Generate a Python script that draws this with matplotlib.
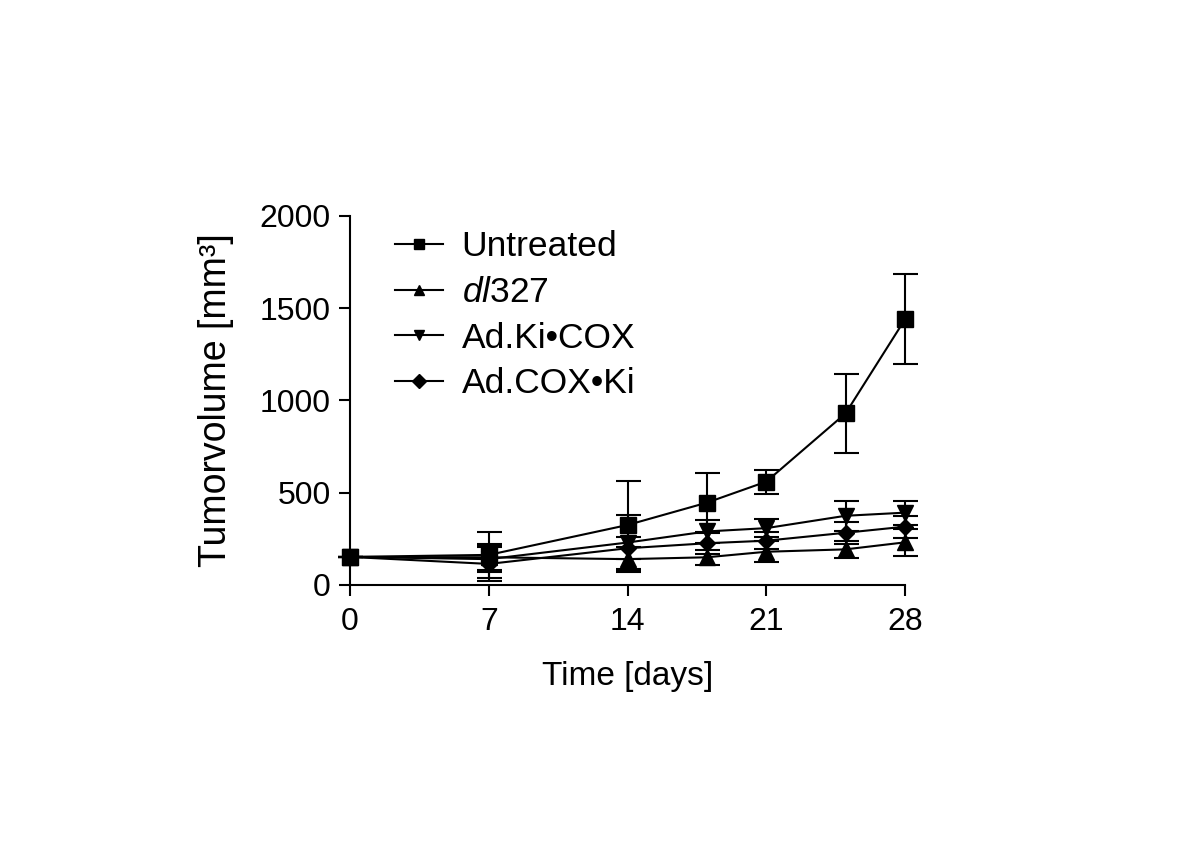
import matplotlib
matplotlib.use("Agg")
import matplotlib.pyplot as plt
import numpy as np

days = [0, 7, 14, 18, 21, 25, 28]
untreated = [152, 163, 325, 446, 560, 930, 1440]
untreated_err = [0, 125, 240, 162, 65, 213, 245]
dl327 = [152, 150, 140, 150, 180, 193, 231]
dl327_err = [0, 70, 68, 40, 58, 45, 72]
adkicox = [152, 140, 230, 290, 308, 375, 392]
adkicox_err = [0, 70, 150, 60, 50, 82, 65]
adcoxki = [152, 114, 199, 226, 240, 283, 316]
adcoxki_err = [0, 90, 60, 60, 45, 60, 60]

labels = ["Untreated", r"$\it{dl}$327", "Ad.Ki\u2022COX", "Ad.COX\u2022Ki"]

plt.rcParams['font.family'] = ['Liberation Sans', 'DejaVu Sans']
plt.rcParams['mathtext.fontset'] = 'custom'
plt.rcParams['mathtext.it'] = 'Liberation Sans:italic'
plt.rcParams['mathtext.rm'] = 'Liberation Sans'

fig = plt.figure(figsize=(12, 8.49), dpi=100)
ax = fig.add_axes([0.2917, 0.311, 0.7542 - 0.2917, 0.7456 - 0.311])

series = [
    (untreated, untreated_err, 's', 12),
    (dl327, dl327_err, '^', 12),
    (adkicox, adkicox_err, 'v', 12),
    (adcoxki, adcoxki_err, 'D', 8.5),
]
for (vals, err, m, ms), lab in zip(series, labels):
    ax.errorbar(days, vals, yerr=err, color='black', marker=m, markersize=ms,
                linewidth=1.5, elinewidth=1.5, capsize=9, capthick=1.5,
                label=lab, clip_on=False)

ax.set_xlim(0, 28)
ax.set_ylim(0, 2000)
ax.set_xticks([0, 7, 14, 21, 28])
ax.set_yticks([0, 500, 1000, 1500, 2000])
for s in ['top', 'right']:
    ax.spines[s].set_visible(False)
for s in ['left', 'bottom']:
    ax.spines[s].set_linewidth(1.5)
ax.tick_params(axis='both', length=8, width=1.5, labelsize=23, pad=6)
ax.tick_params(axis='x', labelsize=23, pad=8)
ax.set_xlabel("Time [days]", fontsize=24, labelpad=17)
ax.set_ylabel("Tumorvolume [mm\u00b3]", fontsize=27, labelpad=18)

h, l = ax.get_legend_handles_labels()
h = [hh[0] for hh in h]
leg = ax.legend(h, l, loc='upper left', bbox_to_anchor=(0.056, 1.0), frameon=False,
                fontsize=25.5, handlelength=1.35, handletextpad=0.52, labelspacing=0.36,
                borderaxespad=0)
for lh in leg.legend_handles:
    lh.set_markersize(7.5)

fig.savefig("out.png", dpi=100)
